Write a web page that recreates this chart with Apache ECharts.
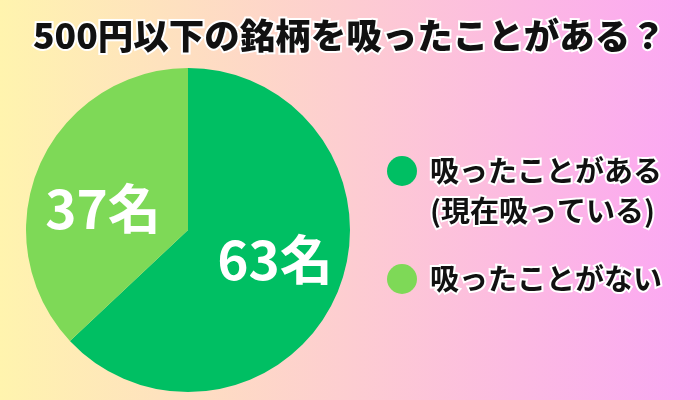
<!DOCTYPE html>
<html><head><meta charset="utf-8">
<script src="https://cdn.jsdelivr.net/npm/echarts@6/dist/echarts.min.js"></script>
<style>html,body{margin:0;padding:0;}#c{width:700px;height:400px;}</style>
</head><body><div id="c"></div>
<script>
const titleText = '500円以下の銘柄を吸ったことがある？';
const categories = ['吸ったことがある\n(現在吸っている)', '吸ったことがない'];
const values = [63, 37];
const unit = '名';
const colors = ['#00BF63', '#7ED957'];
const labelOffsets = [[10, -4], [-8, 12]];

const FONT = '"Noto Sans CJK JP", "Noto Sans", sans-serif';
const chart = echarts.init(document.getElementById('c'));
chart.setOption({
  backgroundColor: new echarts.graphic.LinearGradient(0, 0, 1, 0, [
    {offset: 0, color: '#FFF4AE'},
    {offset: 1, color: '#FBA5F4'}
  ]),
  title: {
    text: titleText, left: 28, top: 13,
    textStyle: {fontFamily: FONT, fontSize: 35.5, fontWeight: 900, color: '#111',
      textBorderColor: '#fff', textBorderWidth: 4}
  },
  legend: {
    orient: 'vertical', left: 382, top: 106, itemGap: 28,
    icon: 'circle', itemWidth: 30, itemHeight: 30,
    selectedMode: false,
    data: categories,
    formatter: name => name.indexOf('\n') >= 0 ? ' \n' + name : name,
    textStyle: {fontFamily: FONT, fontSize: 29, fontWeight: 'bold', color: '#111',
      lineHeight: 40, textBorderColor: '#fff', textBorderWidth: 4, padding: [0,0,0,8]}
  },
  series: [{
    type: 'pie', center: [188, 230], radius: 162, startAngle: 90, clockwise: true,
    silent: true,
    data: values.map((v, i) => ({
      name: categories[i], value: v, itemStyle: {color: colors[i]},
      label: {offset: labelOffsets[i]}
    })),
    label: {position: 'inside', formatter: p => p.value + unit,
      fontFamily: FONT, fontSize: 53, fontWeight: 'bold', color: '#fff'},
    labelLine: {show: false}
  }]
});
</script></body></html>
